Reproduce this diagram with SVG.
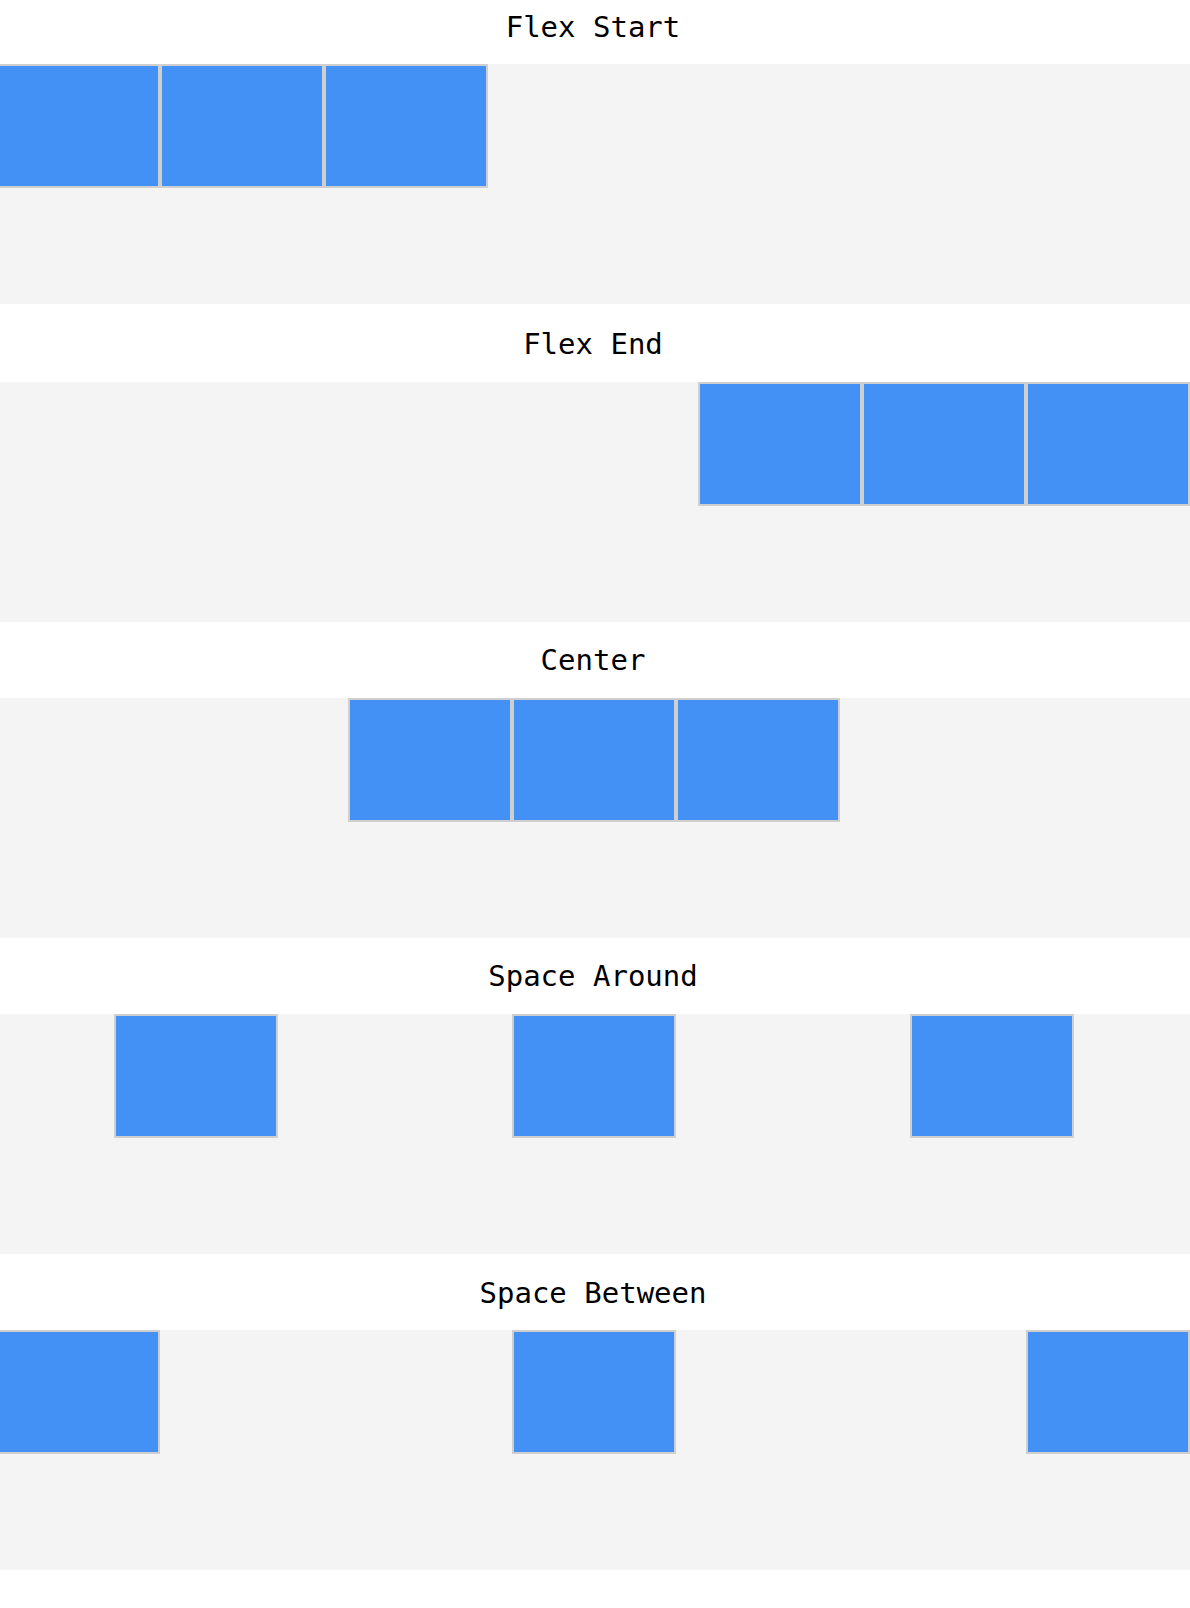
<svg xmlns="http://www.w3.org/2000/svg" width="1190" height="1608" viewBox="0 0 1190 1608">
  <style>
    .bg { fill: #ffffff; }
    .panel { fill: #f4f4f4; }
    .box { fill: #4391f5; stroke: #cfcfcf; stroke-width: 2; }
    .title { font-family: "DejaVu Sans Mono", "Liberation Mono", monospace; font-size: 29px; fill: #000000; text-anchor: middle; }
  </style>
  <rect class="bg" x="0" y="0" width="1190" height="1608"/>

  <g id="flex-start">
    <text class="title" x="593" y="37">Flex Start</text>
    <rect class="panel" x="0" y="64" width="1190" height="240"/>
    <rect class="box" x="-3" y="65" width="162" height="122"/>
    <rect class="box" x="161" y="65" width="162" height="122"/>
    <rect class="box" x="325" y="65" width="162" height="122"/>
  </g>

  <g id="flex-end">
    <text class="title" x="593" y="354">Flex End</text>
    <rect class="panel" x="0" y="382" width="1190" height="240"/>
    <rect class="box" x="699" y="383" width="162" height="122"/>
    <rect class="box" x="863" y="383" width="162" height="122"/>
    <rect class="box" x="1027" y="383" width="162" height="122"/>
  </g>

  <g id="center">
    <text class="title" x="593" y="670">Center</text>
    <rect class="panel" x="0" y="698" width="1190" height="240"/>
    <rect class="box" x="349" y="699" width="162" height="122"/>
    <rect class="box" x="513" y="699" width="162" height="122"/>
    <rect class="box" x="677" y="699" width="162" height="122"/>
  </g>

  <g id="space-around">
    <text class="title" x="593" y="986">Space Around</text>
    <rect class="panel" x="0" y="1014" width="1190" height="240"/>
    <rect class="box" x="115" y="1015" width="162" height="122"/>
    <rect class="box" x="513" y="1015" width="162" height="122"/>
    <rect class="box" x="911" y="1015" width="162" height="122"/>
  </g>

  <g id="space-between">
    <text class="title" x="593" y="1303">Space Between</text>
    <rect class="panel" x="0" y="1330" width="1190" height="240"/>
    <rect class="box" x="-3" y="1331" width="162" height="122"/>
    <rect class="box" x="513" y="1331" width="162" height="122"/>
    <rect class="box" x="1027" y="1331" width="162" height="122"/>
  </g>

  <g id="connectors"></g>
</svg>
